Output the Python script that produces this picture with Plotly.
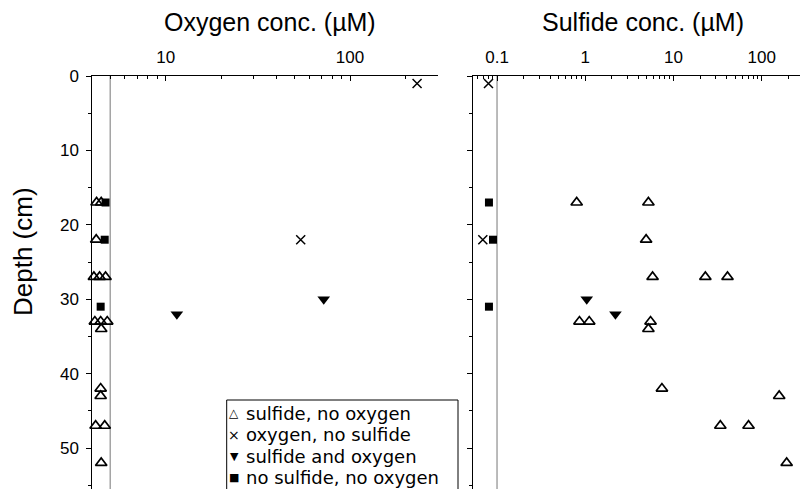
import math
import plotly.graph_objects as go

# ---------------- data ----------------
# sulfide present, no oxygen (open triangles); oxygen plotted below detection limit
tri_depth = [17, 17, 22, 27, 27, 27, 33, 33, 33, 34, 42, 43, 47, 47, 52]
tri_oxygen = [4.22, 4.47, 4.2, 4.08, 4.38, 4.72, 4.13, 4.44, 4.82, 4.47, 4.44, 4.44, 4.17, 4.67, 4.47]
tri_sulfide = [0.80, 5.2, 4.9, 5.8, 23, 41, 0.86, 1.11, 5.5, 5.2, 7.4, 158, 34, 71, 192]

# oxygen present, no sulfide (crosses)
cross_depth = [1, 22]
cross_oxygen = [231, 54]
cross_sulfide = [0.080, 0.069]

# sulfide and oxygen (filled down triangles)
both_depth = [30, 32]
both_oxygen = [72, 11.5]
both_sulfide = [1.04, 2.2]

# no sulfide, no oxygen (filled squares)
none_depth = [17, 22, 31]
none_oxygen = [4.72, 4.67, 4.44]
none_sulfide = [0.081, 0.090, 0.081]

# detection limits and axis extents
OXY_LIMIT = 5
SULF_LIMIT = 0.1
DEPTH_MAX = 55.5
OXY_RANGE = [4, 300]
SULF_RANGE = [0.053, 272]

oxy_ticks = [10, 100]
oxy_minor = [4, 5, 6, 7, 8, 9, 20, 30, 40, 50, 60, 70, 80, 90, 200, 300]
sulf_ticks = [0.1, 1, 10, 100]
sulf_minor = [0.06, 0.07, 0.08, 0.09, 0.2, 0.3, 0.4, 0.5, 0.6, 0.7, 0.8, 0.9,
              2, 3, 4, 5, 6, 7, 8, 9, 20, 30, 40, 50, 60, 70, 80, 90, 200]

legend_labels = ["sulfide, no oxygen", "oxygen, no sulfide",
                 "sulfide and oxygen", "no sulfide, no oxygen"]
legend_symbols = ["\u25B3", "\u00D7", "\u25BC", "\u25A0"]

# ---------------- figure ----------------
W, H = 800, 489
TOP = 76
FONT = "Liberation Sans, Arial, Helvetica, sans-serif"

fig = go.Figure()

def px_y(y):
    return (H - y) / (H - TOP)

# detection-limit lines
fig.add_trace(go.Scatter(x=[OXY_LIMIT, OXY_LIMIT], y=[0, DEPTH_MAX], mode="lines",
                         line=dict(color="#777777", width=1), xaxis="x", yaxis="y",
                         showlegend=False, hoverinfo="skip"))
fig.add_trace(go.Scatter(x=[SULF_LIMIT, SULF_LIMIT], y=[0, DEPTH_MAX], mode="lines",
                         line=dict(color="#777777", width=1), xaxis="x2", yaxis="y2",
                         showlegend=False, hoverinfo="skip"))

styles = [
    ("sulfide, no oxygen", tri_depth, tri_oxygen, tri_sulfide,
     dict(symbol="triangle-up-open", size=10, color="black", line=dict(width=1.7, color="black"))),
    ("oxygen, no sulfide", cross_depth, cross_oxygen, cross_sulfide,
     dict(symbol="x-thin-open", size=9, color="black", line=dict(width=1.5, color="black"))),
    ("sulfide and oxygen", both_depth, both_oxygen, both_sulfide,
     dict(symbol="triangle-down", size=11, color="black", line=dict(width=0))),
    ("no sulfide, no oxygen", none_depth, none_oxygen, none_sulfide,
     dict(symbol="square", size=8, color="black", line=dict(width=0))),
]

for name, d, ox, su, mk in styles:
    fig.add_trace(go.Scatter(x=ox, y=d, mode="markers", name=name, marker=mk,
                             xaxis="x", yaxis="y", showlegend=False, cliponaxis=False))
    fig.add_trace(go.Scatter(x=su, y=d, mode="markers", name=name, marker=mk,
                             xaxis="x2", yaxis="y2", showlegend=False, cliponaxis=False))

tickfont = dict(family=FONT, size=17, color="black")
titlefont = dict(family=FONT, size=25, color="black")

common_x = dict(type="log", side="top", showline=True, linecolor="black", linewidth=1,
                ticks="inside", ticklen=5, tickcolor="black", tickwidth=1,
                showgrid=False, zeroline=False, tickfont=tickfont, automargin=False,
                ticklabelstandoff=5)

fig.update_layout(
    width=W, height=H,
    margin=dict(l=0, r=0, t=TOP, b=0),
    paper_bgcolor="white", plot_bgcolor="white",
    font=dict(family=FONT, color="black"),
    showlegend=False,
    xaxis=dict(common_x, domain=[92.3 / W, 438 / W], anchor="y",
               range=[math.log10(OXY_RANGE[0]), math.log10(OXY_RANGE[1])],
               tickvals=oxy_ticks, ticktext=[str(v) for v in oxy_ticks],
               minor=dict(tickvals=oxy_minor, ticks="inside", ticklen=3, tickcolor="black", showgrid=False)),
    xaxis2=dict(common_x, domain=[472.7 / W, 1.0], anchor="y2",
                range=[math.log10(SULF_RANGE[0]), math.log10(SULF_RANGE[1])],
                tickvals=sulf_ticks, ticktext=["0.1", "1", "10", "100"],
                minor=dict(tickvals=sulf_minor, ticks="inside", ticklen=3, tickcolor="black", showgrid=False)),
    yaxis=dict(range=[DEPTH_MAX, 0], domain=[0, 1], anchor="x",
               showline=True, linecolor="black", linewidth=1,
               ticks="outside", ticklen=5, tickcolor="black", dtick=10, tick0=0,
               minor=dict(ticks="outside", ticklen=3, dtick=5, tickcolor="black", showgrid=False),
               showgrid=False, zeroline=False, tickfont=tickfont, automargin=False,
               ticklabelstandoff=4),
    yaxis2=dict(range=[DEPTH_MAX, 0], domain=[0, 1], anchor="x2",
                showline=True, linecolor="black", linewidth=1,
                ticks="outside", ticklen=5, tickcolor="black", dtick=10, tick0=0,
                minor=dict(ticks="outside", ticklen=3, dtick=5, tickcolor="black", showgrid=False),
                showgrid=False, zeroline=False, showticklabels=False, automargin=False),
)

# axis titles
fig.add_annotation(xref="paper", yref="paper", x=270 / W, y=px_y(22),
                   text="Oxygen conc. (µM)", showarrow=False, xanchor="center", yanchor="middle",
                   font=titlefont)
fig.add_annotation(xref="paper", yref="paper", x=643 / W, y=px_y(22),
                   text="Sulfide conc. (µM)", showarrow=False, xanchor="center", yanchor="middle",
                   font=titlefont)
fig.add_annotation(xref="paper", yref="paper", x=23 / W, y=px_y(252),
                   text="Depth (cm)", showarrow=False, xanchor="center", yanchor="middle",
                   textangle=-90, font=dict(family=FONT, size=26, color="black"))

# manual legend box
fig.add_shape(type="rect", xref="paper", yref="paper",
              x0=226.7 / W, x1=458 / W, y0=-0.05, y1=px_y(400),
              line=dict(color="black", width=1), fillcolor="white", layer="above")
row_y = [413, 434.5, 456, 477.5]
sym_sizes = [12, 14, 11, 11]
for lab, sym, ry, ss in zip(legend_labels, legend_symbols, row_y, sym_sizes):
    fig.add_annotation(xref="paper", yref="paper", x=234 / W, y=px_y(ry),
                       text=sym, showarrow=False, xanchor="center", yanchor="middle",
                       borderpad=0, font=dict(family="DejaVu Sans", size=ss, color="black"))
    fig.add_annotation(xref="paper", yref="paper", x=245 / W, y=px_y(ry),
                       text=lab, showarrow=False, xanchor="left", yanchor="middle",
                       borderpad=0, font=dict(family="DejaVu Sans", size=18, color="black"))

fig.write_html("out.html", config={"displayModeBar": False},
               post_script="document.body.style.margin='0';document.body.style.overflow='hidden';")
